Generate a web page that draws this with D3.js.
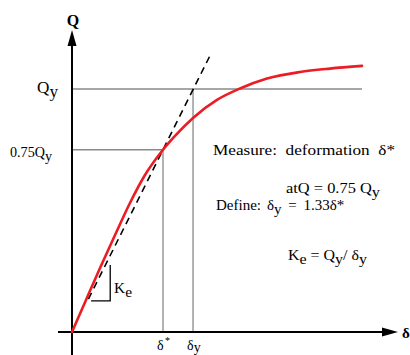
<!DOCTYPE html>
<html>
<head>
<meta charset="utf-8">
<script src="https://cdn.jsdelivr.net/npm/d3@7"></script>
<style>
  html, body { margin: 0; padding: 0; background: #fff; }
  svg { display: block; }
  text { font-family: "Liberation Serif", "Times New Roman", serif; fill: #000; white-space: pre; }
</style>
</head>
<body>
<svg id="chart" width="410" height="355"></svg>
<script>
// Load–deformation curve (δ in units of δ*, Q in units of Qy)
const deformation = [0, 0.154, 0.308, 0.473, 0.637, 0.802, 1.0, 1.132, 1.33, 1.593, 1.846, 2.143, 2.505, 2.835, 3.187];
const load        = [0, 0.132, 0.263, 0.399, 0.531, 0.646, 0.75, 0.807, 0.881, 0.955, 1.002, 1.043, 1.070, 1.084, 1.095];

// Reference levels
const loadLevels  = [1, 0.75];          // Qy, 0.75 Qy
const deformMarks = [1, 1.33];          // δ*, δy
const secantStiffness = 0.75;           // Ke = Qy / δy  (=0.75 in these units)
const secantRange = [0.18, 1.53];

const svg = d3.select("#chart");

const x = d3.scaleLinear().domain([0, 1]).range([72, 163]);
const y = d3.scaleLinear().domain([0, 1]).range([332, 89]);

const grey = "#8a8a8a";
const red = "#ec1c24";

// Reference grid lines
svg.append("line")
  .attr("x1", x(0)).attr("x2", x(deformation[deformation.length - 1]))
  .attr("y1", y(loadLevels[0])).attr("y2", y(loadLevels[0]))
  .attr("stroke", grey).attr("stroke-width", 1.3);
svg.append("line")
  .attr("x1", x(0)).attr("x2", x(deformMarks[0]))
  .attr("y1", y(loadLevels[1])).attr("y2", y(loadLevels[1]))
  .attr("stroke", grey).attr("stroke-width", 1.3);
svg.append("line")
  .attr("x1", x(deformMarks[0])).attr("x2", x(deformMarks[0]))
  .attr("y1", y(0)).attr("y2", y(loadLevels[1]))
  .attr("stroke", grey).attr("stroke-width", 1.3);
svg.append("line")
  .attr("x1", x(deformMarks[1])).attr("x2", x(deformMarks[1]))
  .attr("y1", y(0)).attr("y2", y(loadLevels[0]))
  .attr("stroke", grey).attr("stroke-width", 1.3);

// Axes with arrowheads
svg.append("line")
  .attr("x1", x(0)).attr("x2", x(0))
  .attr("y1", 355).attr("y2", 42)
  .attr("stroke", "#000").attr("stroke-width", 2);
svg.append("path")
  .attr("d", `M${x(0)},30 L${x(0) - 4.5},46 L${x(0) + 4.5},46 Z`)
  .attr("fill", "#000");
svg.append("line")
  .attr("x1", 58).attr("x2", 386)
  .attr("y1", y(0)).attr("y2", y(0))
  .attr("stroke", "#000").attr("stroke-width", 2);
svg.append("path")
  .attr("d", `M398,${y(0)} L382,${y(0) - 4.5} L382,${y(0) + 4.5} Z`)
  .attr("fill", "#000");

// Secant stiffness line (dashed)
svg.append("line")
  .attr("x1", x(secantRange[0])).attr("y1", y(secantStiffness * secantRange[0]))
  .attr("x2", x(secantRange[1])).attr("y2", y(secantStiffness * secantRange[1]))
  .attr("stroke", "#000").attr("stroke-width", 1.6)
  .attr("stroke-dasharray", "7,5");

// Ke slope triangle
const tri = { d0: 0.21, d1: 0.42, q0: 0.128, q1: 0.276 };
svg.append("path")
  .attr("d", `M${x(tri.d0)},${y(tri.q0)} L${x(tri.d1)},${y(tri.q0)} L${x(tri.d1)},${y(tri.q1)}`)
  .attr("fill", "none").attr("stroke", "#000").attr("stroke-width", 1.3);

// Load–deformation curve
const pts = deformation.map((d, i) => [d, load[i]]);
svg.append("path")
  .datum(pts)
  .attr("d", d3.line().x(d => x(d[0])).y(d => y(d[1])).curve(d3.curveMonotoneX))
  .attr("fill", "none").attr("stroke", red).attr("stroke-width", 2.6)
  .attr("stroke-linecap", "round");

// Text with subscripts: parts = [[text, isSub, dx], ...]
function label(xp, yp, parts, size, opts) {
  opts = opts || {};
  const sub = opts.sub || 4;
  const t = svg.append("text")
    .attr("x", xp).attr("y", yp)
    .attr("font-size", size)
    .attr("text-anchor", opts.anchor || "start")
    .attr("font-weight", opts.weight || "normal");
  if (opts.width) t.attr("textLength", opts.width).attr("lengthAdjust", "spacingAndGlyphs");
  let shifted = false;
  parts.forEach(([s, isSub, dx]) => {
    const ts = t.append("tspan").text(s);
    if (dx) ts.attr("dx", dx);
    if (isSub && !shifted) { ts.attr("dy", sub); shifted = true; }
    else if (!isSub && shifted) { ts.attr("dy", -sub); shifted = false; }
  });
  return t;
}

// Axis titles
label(x(0) + 1, 26, [["Q", false]], 16, { anchor: "middle", weight: "bold" });
label(402, 338, [["δ", false]], 15, { weight: "bold" });

// Load level labels
label(37, 93, [["Q", false], ["y", true]], 16, { width: 21 });
label(10, 157, [["0.75", false], ["Q", false], ["y", true]], 14, { width: 42 });

// Deformation labels
label(x(deformMarks[0]) - 6, 350, [["δ", false]], 14);
svg.append("text").attr("x", x(deformMarks[0]) + 2).attr("y", 344).attr("font-size", 10).text("*");
label(x(deformMarks[1]) - 6, 350, [["δ", false], ["y", true]], 14, { sub: 2 });

// Ke label
label(114, 293, [["K", false], ["e", true]], 15, { width: 18 });

// Annotations
label(213, 155, [["Measure:  deformation  δ*", false]], 15.5, { width: 182 });
label(286, 193, [["at", false], ["Q", false], [" = 0.75 ", false], ["Q", false], ["y", true]], 15, { width: 94 });
label(216, 210, [["Define:", false]], 15);
label(267, 210, [["δ", false], ["y", true], [" = ", false, 3], ["1.33δ*", false, 3]], 15);
label(288, 260, [["K", false], ["e", true], [" = ", false], ["Q", false], ["y", true], ["/ δ", false], ["y", true]], 15, { width: 79 });
</script>
</body>
</html>
